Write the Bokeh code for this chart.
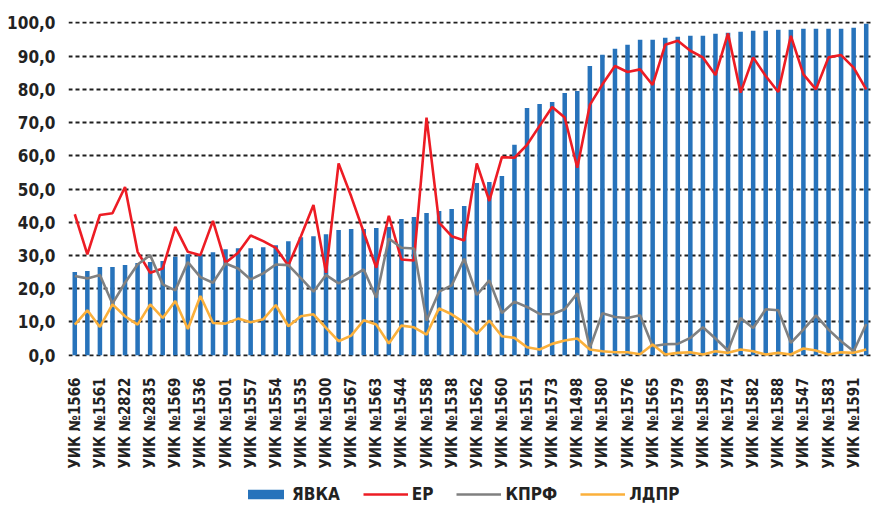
from math import pi
from bokeh.plotting import figure
from bokeh.layouts import column
from bokeh.models import Range1d, FixedTicker, ColumnDataSource, Legend, LegendItem
from bokeh.embed import file_html
from bokeh.resources import INLINE

# ---- data ----
turnout = [25.0, 25.3, 26.5, 26.5, 27.1, 27.7, 28.0, 28.3, 29.6, 30.4, 30.3, 31.0, 31.9, 32.2, 32.2, 32.5,
           33.1, 34.3, 35.5, 35.8, 36.4, 37.7, 38.0, 38.0, 38.3, 38.6, 41.0, 41.6, 42.8, 43.4, 44.0, 44.9,
           51.8, 52.1, 53.9, 63.3, 74.4, 75.6, 76.2, 78.9, 79.5, 87.0, 90.4, 92.2, 93.4, 94.9, 94.9, 95.5,
           95.8, 96.1, 96.1, 96.7, 97.0, 97.3, 97.6, 97.6, 97.9, 97.9, 98.2, 98.2, 98.2, 98.2, 98.5, 99.7]
er = [42.4, 30.3, 42.2, 42.7, 50.6, 31.1, 24.8, 26.1, 38.6, 31.1, 30.1, 40.4, 27.8, 30.8, 36.0, 34.3,
      32.3, 27.0, 35.8, 45.2, 24.8, 57.7, 47.8, 37.0, 26.3, 41.9, 28.8, 28.5, 71.5, 39.9, 35.8, 34.5,
      57.7, 46.4, 59.6, 59.4, 63.3, 69.0, 74.7, 71.5, 56.4, 75.3, 81.5, 87.0, 85.2, 86.0, 81.3, 93.4,
      94.6, 91.6, 89.6, 84.3, 96.8, 79.0, 89.6, 84.0, 79.2, 96.1, 84.5, 80.0, 89.6, 90.3, 86.5, 80.0]
kprf = [23.8, 23.1, 24.1, 15.5, 21.8, 27.3, 30.1, 21.3, 19.5, 28.0, 23.5, 21.8, 27.6, 26.1, 22.8, 24.6,
        27.3, 27.1, 23.2, 19.1, 24.1, 21.6, 23.5, 25.8, 17.3, 35.1, 32.3, 32.1, 10.4, 19.1, 21.0, 29.0,
        18.1, 22.5, 12.7, 16.1, 14.5, 12.4, 12.3, 13.8, 18.6, 2.2, 12.6, 11.5, 11.2, 12.0, 2.7, 3.3,
        3.4, 5.2, 8.4, 5.0, 1.4, 11.2, 8.2, 13.8, 13.5, 3.7, 7.7, 12.0, 7.7, 4.2, 1.2, 9.4]
ldpr = [9.2, 13.5, 8.5, 15.3, 11.7, 9.2, 15.3, 11.2, 16.3, 7.9, 17.8, 9.7, 9.5, 11.0, 9.9, 10.8,
        15.1, 8.7, 11.7, 12.3, 8.2, 4.2, 5.9, 10.5, 9.2, 3.5, 8.9, 8.4, 6.2, 14.1, 12.3, 9.8,
        6.4, 10.4, 5.7, 5.2, 2.4, 1.7, 3.4, 4.4, 5.0, 1.7, 1.2, 0.9, 0.9, 0.3, 3.2, 0.2,
        0.7, 0.9, 0.2, 1.2, 0.7, 1.7, 1.2, 0.2, 0.7, 0.2, 2.0, 1.4, 0.2, 0.9, 0.7, 1.7]
tick_labels = ["УИК №1566", "УИК №1561", "УИК №2822", "УИК №2835", "УИК №1569", "УИК №1536",
               "УИК №1501", "УИК №1557", "УИК №1554", "УИК №1535", "УИК №1500", "УИК №1567",
               "УИК №1563", "УИК №1544", "УИК №1558", "УИК №1538", "УИК №1562", "УИК №1560",
               "УИК №1551", "УИК №1573", "УИК №1498", "УИК №1580", "УИК №1576", "УИК №1565",
               "УИК №1579", "УИК №1589", "УИК №1574", "УИК №1582", "УИК №1588", "УИК №1547",
               "УИК №1583", "УИК №1591"]
series_names = ["ЯВКА", "ЕР", "КПРФ", "ЛДПР"]
y_ticks = [0, 10, 20, 30, 40, 50, 60, 70, 80, 90, 100]

n = len(turnout)
xs = list(range(n))
src = ColumnDataSource(dict(x=xs, turnout=turnout, er=er, kprf=kprf, ldpr=ldpr))

FONT = "DejaVu Sans Condensed, Roboto"
TXT = "#222222"
C_BAR, C_ER, C_KP, C_LD = "#2773BB", "#ED1C24", "#808080", "#FBB03B"

p = figure(frame_width=804, frame_height=335, output_backend="svg", toolbar_location=None,
           x_range=Range1d(-0.5, n - 0.5), y_range=Range1d(-0.4, 100.4),
           min_border_left=68, min_border_right=0, min_border_top=21, min_border_bottom=125)
p.outline_line_color = None

p.vbar(x="x", top="turnout", bottom=0, width=0.36, source=src, fill_color=C_BAR, line_color=None)
p.line(x="x", y="er", source=src, line_color=C_ER, line_width=2.6)
p.line(x="x", y="kprf", source=src, line_color=C_KP, line_width=2.6)
p.line(x="x", y="ldpr", source=src, line_color=C_LD, line_width=2.6)

# y axis
p.yaxis.ticker = FixedTicker(ticks=y_ticks)
p.yaxis.major_label_overrides = {v: f"{v},0" for v in y_ticks}
p.yaxis.axis_line_color = None
p.yaxis.major_tick_line_color = None
p.yaxis.minor_tick_line_color = None
p.yaxis.major_tick_in = 0
p.yaxis.major_tick_out = 0
p.yaxis.major_label_standoff = 13
p.yaxis.major_label_text_font = FONT
p.yaxis.major_label_text_font_style = "bold"
p.yaxis.major_label_text_font_size = "17px"
p.yaxis.major_label_text_color = TXT

# grid
p.xgrid.visible = False
p.ygrid.grid_line_color = "#1f1f1f"
p.ygrid.grid_line_width = 2
p.ygrid.grid_line_dash = "4 3"

# x axis
x_ticks = list(range(0, n, 2))
p.xaxis.ticker = FixedTicker(ticks=x_ticks)
p.xaxis.major_label_overrides = {t: lab for t, lab in zip(x_ticks, tick_labels)}
p.xaxis.major_label_orientation = pi / 2
p.xaxis.axis_line_color = None
p.xaxis.major_tick_line_color = None
p.xaxis.minor_tick_line_color = None
p.xaxis.major_tick_in = 0
p.xaxis.major_tick_out = 0
p.xaxis.major_label_standoff = 21
p.xaxis.major_label_text_font = FONT
p.xaxis.major_label_text_font_style = "bold"
p.xaxis.major_label_text_font_size = "15px"
p.xaxis.major_label_text_color = TXT

# legend strip (separate small figure below the chart)
lg = figure(width=872, height=26, output_backend="svg", toolbar_location=None,
            x_range=Range1d(0, 1), y_range=Range1d(0, 1),
            min_border_left=0, min_border_right=0, min_border_top=0, min_border_bottom=0)
lg.outline_line_color = None
lg.xaxis.visible = False
lg.yaxis.visible = False
lg.grid.visible = False
dummy = ColumnDataSource(dict(x=[-10, -9], y=[-10, -9]))
g_bar = lg.vbar(x="x", top="y", width=0.1, source=dummy, fill_color=C_BAR, line_color=None)
g_er = lg.line(x="x", y="y", source=dummy, line_color=C_ER, line_width=2.6)
g_kp = lg.line(x="x", y="y", source=dummy, line_color=C_KP, line_width=2.6)
g_ld = lg.line(x="x", y="y", source=dummy, line_color=C_LD, line_width=2.6)

leg = Legend(items=[LegendItem(label=name, renderers=[r])
                    for name, r in zip(series_names, [g_bar, g_er, g_kp, g_ld])],
             orientation="horizontal", location=(175, 3), margin=0, padding=0,
             spacing=23, label_standoff=4, glyph_width=45, glyph_height=12,
             label_height=20,
             label_text_font=FONT, label_text_font_style="bold",
             label_text_font_size="17px", label_text_color=TXT,
             border_line_color=None, background_fill_alpha=0)
lg.add_layout(leg, "center")

layout = column(p, lg, spacing=0)
open("out.html", "w").write(file_html(layout, INLINE))
